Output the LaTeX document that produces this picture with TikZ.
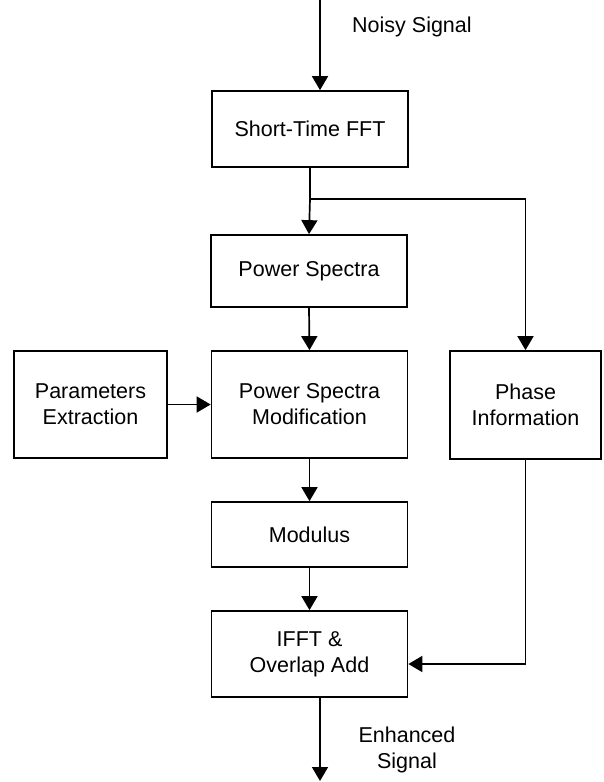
\documentclass[tikz,border=0pt]{standalone}
\usepackage{fontspec}
\setmainfont{Liberation Sans}
\usetikzlibrary{arrows.meta}
\begin{document}
\begin{tikzpicture}[x=1pt,y=-1pt,
  every node/.style={font=\fontsize{21.5}{26}\selectfont},
  block/.style={draw, line width=1.7pt, inner sep=0pt, align=center,
    minimum width=196pt},
  wire/.style={line width=1.7pt},
  arr/.style={wire, -{Triangle[width=16pt,length=14pt]}}]
\useasboundingbox (0,0) rectangle (603,782);

% processing blocks
\node[block, minimum height=76pt]  (stfft) at (310,129)   {Short-Time FFT};
\node[block, minimum height=72pt]  (ps)    at (309,271)   {Power Spectra};
\node[block, minimum height=107pt] (psm)   at (309.5,404.5) {Power Spectra\\Modification};
\node[block, minimum height=107pt, minimum width=153pt] (pe) at (90.5,404.5) {Parameters\\Extraction};
\node[block, minimum height=108pt, minimum width=151pt] (phase) at (525.5,405) {Phase\\Information};
\node[block, minimum height=65pt]  (mod)   at (309.5,534.5) {Modulus};
\node[block, minimum height=86pt]  (ifft)  at (309.5,654) {IFFT \&\\Overlap Add};

% signal labels
\node[anchor=west, inner sep=0pt] (noisy) at (352,27) {Noisy Signal};
\node[align=center, inner sep=0pt] (enh) at (407,750) {Enhanced\\Signal};

% helper points
\coordinate (in)  at (320,0);
\coordinate (out) at (320,781);
\coordinate (j)   at (310,199);
\coordinate (k)   at (525.5,664);

% connectors
\draw[arr] (in) -- (stfft.north -| in);
\draw[wire] (stfft.south) -- (j);
\draw[arr] (j) -- (ps.north);
\draw[arr] (j) -| (phase.north);
\draw[arr] (ps.south) -- (psm.north);
\draw[arr] (pe.east) -- (psm.west);
\draw[arr] (psm.south) -- (mod.north);
\draw[arr] (mod.south) -- (ifft.north);
\draw[wire] (phase.south) -- (k);
\draw[arr] (k) -- (k -| ifft.east);
\draw[arr] (ifft.south -| out) -- (out);
\end{tikzpicture}
\end{document}
